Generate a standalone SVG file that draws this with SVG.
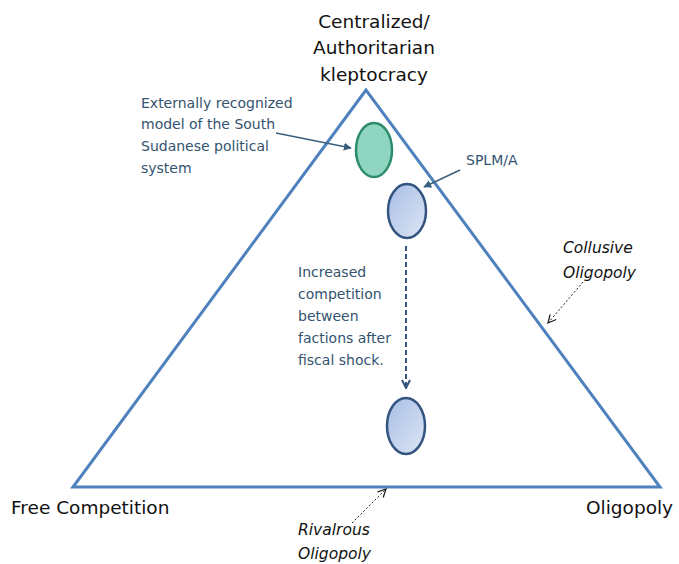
<svg xmlns="http://www.w3.org/2000/svg" width="679" height="564" viewBox="0 0 679 564">
<style>
.lbl{font-family:"DejaVu Sans","Liberation Sans",sans-serif;font-size:18.5px;fill:#111}
.note{font-family:"DejaVu Sans","Liberation Sans",sans-serif;font-size:14px;fill:#33536F}
.it{font-family:"DejaVu Sans","Liberation Sans",sans-serif;font-size:15.5px;font-style:italic;fill:#111}
.tri{fill:none;stroke:#4F81BD;stroke-width:3;stroke-linejoin:miter}
.blue{fill:url(#bg);stroke:#34557F;stroke-width:2.5}
.green{fill:#8FD5C1;stroke:#2C8C6C;stroke-width:2.5}
.solid{stroke:#3A5F7F;stroke-width:1.5;fill:none}
.dash{stroke:#34557F;stroke-width:2;stroke-dasharray:5 3;fill:none}
.dot{stroke:#222;stroke-width:1;stroke-dasharray:2 2;fill:none}
</style>
<defs>
<linearGradient id="bg" x1="0" y1="0" x2="1" y2="1">
<stop offset="0" stop-color="#A9BEE6"/>
<stop offset="1" stop-color="#DCE6F4"/>
</linearGradient>
<marker id="ah" viewBox="0 0 10 10" refX="9" refY="5" markerWidth="8" markerHeight="8" markerUnits="userSpaceOnUse" orient="auto">
<path d="M0,0 L10,5 L0,10 Z" fill="#3A5F7F"/>
</marker>
<marker id="open" viewBox="0 0 10 10" refX="9" refY="5" markerWidth="10" markerHeight="10" markerUnits="userSpaceOnUse" orient="auto">
<path d="M1,1 L9,5 L1,9" fill="none" stroke="#34557F" stroke-width="2"/>
</marker>
<marker id="openk" viewBox="0 0 10 10" refX="9" refY="5" markerWidth="10" markerHeight="10" markerUnits="userSpaceOnUse" orient="auto">
<path d="M1,1 L9,5 L1,9" fill="none" stroke="#222" stroke-width="1.3"/>
</marker>
</defs>
<g id="triangle"><polygon class="tri" points="366,90 73,487 660,487"/></g>
<g id="top-label"><text class="lbl" text-anchor="middle" x="374" y="28">Centralized/</text><text class="lbl" text-anchor="middle" x="374" y="54">Authoritarian</text><text class="lbl" text-anchor="middle" x="374" y="81">kleptocracy</text></g>
<g id="free-competition"><text class="lbl" x="11" y="514">Free Competition</text></g>
<g id="oligopoly"><text class="lbl" x="586" y="514">Oligopoly</text></g>
<g id="external-model"><ellipse class="green" cx="374" cy="150" rx="18" ry="27"/></g>
<g id="external-label"><text class="note" x="141" y="108">Externally recognized</text><text class="note" x="141" y="129">model of the South</text><text class="note" x="141" y="151">Sudanese political</text><text class="note" x="141" y="173">system</text></g>
<g id="splm"><ellipse class="blue" cx="407" cy="211" rx="19" ry="27"/></g>
<g id="splm-label"><text class="note" x="466" y="165">SPLM/A</text></g>
<g id="after-shock"><ellipse class="blue" cx="406" cy="426" rx="19" ry="28"/></g>
<g id="shock-label"><text class="note" x="298" y="277">Increased</text><text class="note" x="298" y="299">competition</text><text class="note" x="298" y="321">between</text><text class="note" x="298" y="343">factions after</text><text class="note" x="298" y="365">fiscal shock.</text></g>
<g id="collusive"><text class="it" x="563" y="253">Collusive</text><text class="it" x="563" y="278">Oligopoly</text></g>
<g id="rivalrous"><text class="it" x="298" y="535">Rivalrous</text><text class="it" x="298" y="559">Oligopoly</text></g>
<g id="connectors">
<line class="solid" x1="276" y1="133" x2="351" y2="148" marker-end="url(#ah)"/>
<line class="solid" x1="460" y1="170" x2="424" y2="187" marker-end="url(#ah)"/>
<line class="dash" x1="406" y1="246" x2="406" y2="388" marker-end="url(#open)"/>
<line class="dot" x1="583" y1="282" x2="548" y2="323" marker-end="url(#openk)"/>
<line class="dot" x1="352" y1="523" x2="386" y2="489" marker-end="url(#openk)"/>
</g>
</svg>
